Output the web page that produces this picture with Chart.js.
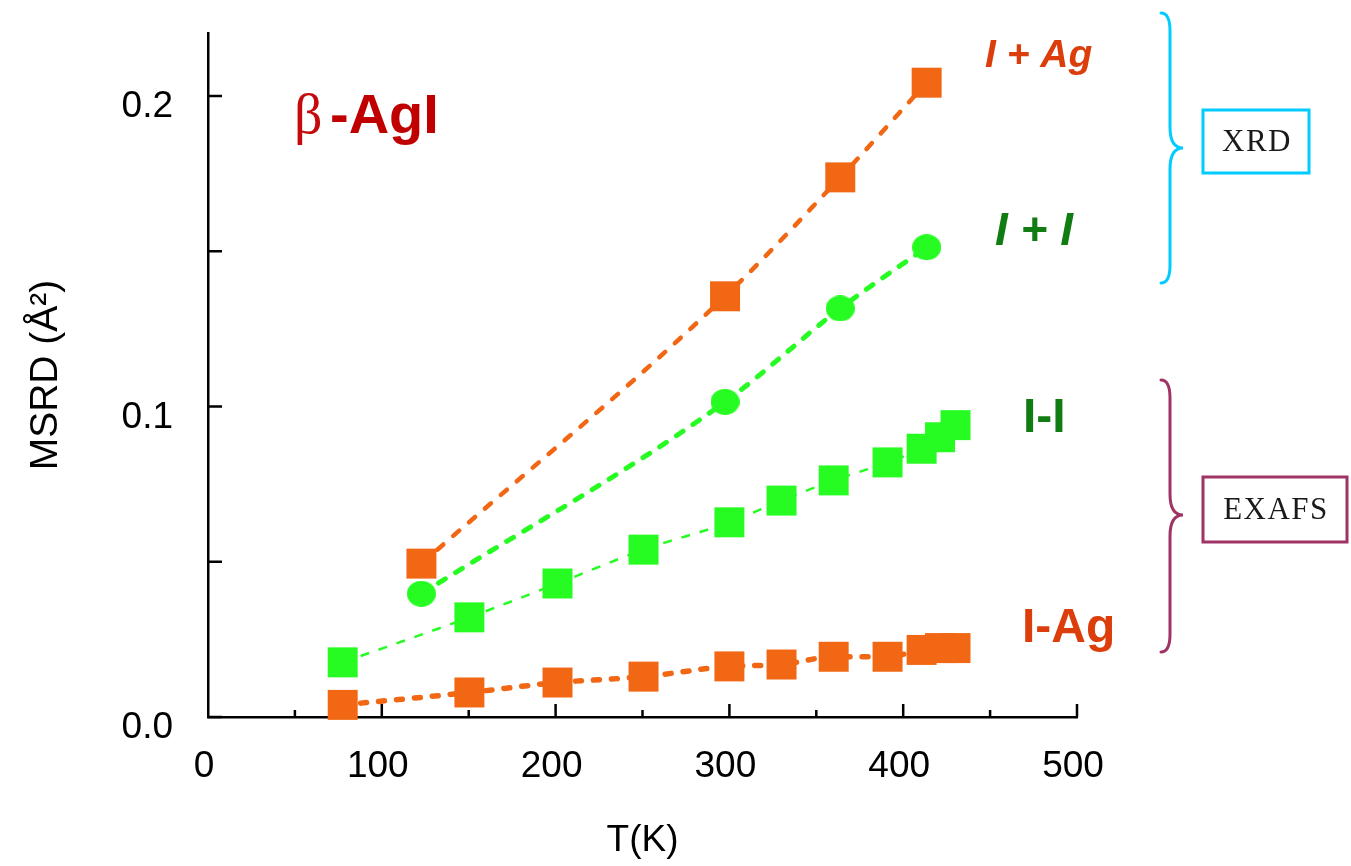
<!DOCTYPE html>
<html>
<head>
<meta charset="utf-8">
<title>beta-AgI MSRD vs T</title>
<script src="https://cdn.jsdelivr.net/npm/chart.js@4"></script>
<style>
  html, body { margin: 0; padding: 0; background: #fff; }
  #wrap { width: 1351px; height: 866px; }
</style>
</head>
<body>
<div id="wrap"><canvas id="msrd" width="1351" height="866"></canvas></div>
<script>
// temperatures (K)
const tXRD = [122.8, 297.5, 363.8, 413.5];
const tEXAFS = [77.5, 150.4, 201.1, 250.6, 300.0, 330.0, 360.0, 391.0, 410.6, 421.2, 430.1];

// MSRD values (A^2)
const msrdIAgXRD = [0.0494, 0.1355, 0.1738, 0.2043];   // I + Ag
const msrdIIXRD = [0.0397, 0.1015, 0.1316, 0.1513];    // I + I
const msrdIIEXAFS = [0.0176, 0.0321, 0.0430, 0.0539, 0.0627, 0.0697, 0.0762, 0.0820, 0.0864, 0.0901, 0.0940]; // I-I
const msrdIAgEXAFS = [0.0039, 0.0079, 0.0111, 0.0130, 0.0163, 0.0169, 0.0194, 0.0194, 0.0216, 0.0222, 0.0222]; // I-Ag

// axes
const xTickLabels = ['0', '100', '200', '300', '400', '500'];
const yTickLabels = ['0.0', '0.1', '0.2'];

const ORANGE = '#F16714';
const GREEN = '#27FC22';
const SANS = '"Liberation Sans", Arial, sans-serif';

function pts(xs, ys) {
  return xs.map((x, i) => ({ x: x, y: ys[i] }));
}

// slightly flattened round marker for the I + I points
function ellipseDot(w, h, color) {
  const c = document.createElement('canvas');
  c.width = w; c.height = h;
  const g = c.getContext('2d');
  g.fillStyle = color;
  g.beginPath();
  g.ellipse(w / 2, h / 2, w / 2, h / 2, 0, 0, Math.PI * 2);
  g.fill();
  return c;
}

function brace(ctx, x0, yTop, yMid, yBot, color) {
  const xs = x0 + 9, xp = x0 + 22, r = 18, rm = 21;
  ctx.save();
  ctx.strokeStyle = color;
  ctx.lineWidth = 3;
  ctx.lineCap = 'round';
  ctx.beginPath();
  ctx.moveTo(x0, yTop);
  ctx.quadraticCurveTo(xs, yTop, xs, yTop + r);
  ctx.lineTo(xs, yMid - rm);
  ctx.quadraticCurveTo(xs, yMid, xp, yMid);
  ctx.quadraticCurveTo(xs, yMid, xs, yMid + rm);
  ctx.lineTo(xs, yBot - r);
  ctx.quadraticCurveTo(xs, yBot, x0, yBot);
  ctx.stroke();
  ctx.restore();
}

function box(ctx, x, y, w, h, color, text) {
  ctx.save();
  ctx.strokeStyle = color;
  ctx.lineWidth = 3;
  ctx.strokeRect(x, y, w, h);
  ctx.fillStyle = '#1a1a1a';
  ctx.font = '31px "Liberation Serif", "Times New Roman", serif';
  ctx.letterSpacing = '1.5px';
  ctx.textAlign = 'center';
  ctx.textBaseline = 'middle';
  ctx.fillText(text, x + w / 2 + 1, y + h / 2 + 1);
  ctx.restore();
}

// inward tick marks, annotations, braces
const decorations = {
  id: 'decorations',
  afterDraw(chart) {
    const ctx = chart.ctx;
    const xs = chart.scales.x, ys = chart.scales.y;
    const ca = chart.chartArea;

    ctx.save();
    ctx.strokeStyle = '#000';
    ctx.lineWidth = 2.5;
    ctx.beginPath();
    ys.ticks.forEach(t => {
      const py = ys.getPixelForValue(t.value);
      ctx.moveTo(ca.left, py);
      ctx.lineTo(ca.left + 14, py);
    });
    xs.ticks.forEach(t => {
      if (t.value === 0) return;
      const px = xs.getPixelForValue(t.value);
      const len = t.value % 100 === 0 ? 13 : 7;
      ctx.moveTo(px, ca.bottom);
      ctx.lineTo(px, ca.bottom - len);
    });
    ctx.stroke();
    ctx.restore();

    ctx.save();
    ctx.textBaseline = 'alphabetic';
    ctx.textAlign = 'left';
    // title
    ctx.fillStyle = '#C40A0A';
    ctx.font = '56px "Liberation Serif", "Times New Roman", serif';
    ctx.fillText('β', 294, 133);
    ctx.fillStyle = '#C00000';
    ctx.font = 'bold 56px ' + SANS;
    ctx.fillText('-AgI', 330, 133);

    ctx.fillStyle = '#DC3E0B';
    ctx.font = 'italic bold 39px ' + SANS;
    ctx.fillText('I + Ag', 985, 67);

    ctx.fillStyle = '#107C12';
    ctx.font = 'italic bold 46px ' + SANS;
    ctx.fillText('I + I', 995, 245);

    ctx.font = 'bold 48px ' + SANS;
    ctx.fillText('I-I', 1023, 432);

    ctx.fillStyle = '#DC3E0B';
    ctx.fillText('I-Ag', 1022, 642);
    ctx.restore();

    brace(ctx, 1161, 13, 148, 283, '#00CCFF');
    brace(ctx, 1161, 380, 515, 652, '#A03366');
    box(ctx, 1203, 110, 106, 63, '#00CCFF', 'XRD');
    box(ctx, 1203, 477, 144, 65, '#A03366', 'EXAFS');
  }
};

const tickFont = { family: SANS, size: 37 };

new Chart(document.getElementById('msrd'), {
  type: 'line',
  data: {
    datasets: [
      {
        label: 'I-Ag',
        data: pts(tEXAFS, msrdIAgEXAFS),
        borderColor: ORANGE,
        borderWidth: 5.5,
        borderDash: [6, 12],
        borderCapStyle: 'round',
        cubicInterpolationMode: 'monotone',
        pointStyle: 'rect',
        pointRadius: 21.2,
        pointBorderWidth: 0,
        pointBackgroundColor: ORANGE
      },
      {
        label: 'I-I',
        data: pts(tEXAFS, msrdIIEXAFS),
        borderColor: GREEN,
        borderWidth: 2.5,
        borderDash: [9, 10],
        cubicInterpolationMode: 'monotone',
        pointStyle: 'rect',
        pointRadius: 21.2,
        pointBorderWidth: 0,
        pointBackgroundColor: GREEN
      },
      {
        label: 'I + I',
        data: pts(tXRD, msrdIIXRD),
        borderColor: GREEN,
        borderWidth: 5,
        borderDash: [8, 12],
        borderCapStyle: 'round',
        cubicInterpolationMode: 'monotone',
        pointStyle: ellipseDot(29, 26, GREEN),
        pointRadius: 14,
        pointBorderWidth: 0,
        pointBackgroundColor: GREEN
      },
      {
        label: 'I + Ag',
        data: pts(tXRD, msrdIAgXRD),
        borderColor: ORANGE,
        borderWidth: 4.5,
        borderDash: [8, 13],
        borderCapStyle: 'round',
        cubicInterpolationMode: 'monotone',
        pointStyle: 'rect',
        pointRadius: 21.2,
        pointBorderWidth: 0,
        pointBackgroundColor: ORANGE
      }
    ]
  },
  options: {
    responsive: false,
    animation: false,
    clip: false,
    layout: { padding: { top: 33, right: 274, left: 0, bottom: 0 } },
    plugins: { legend: { display: false }, tooltip: { enabled: false } },
    scales: {
      x: {
        type: 'linear',
        min: 0,
        max: 500,
        afterFit: s => { s.height = 149; s.paddingLeft = 0; s.paddingRight = 0; },
        border: { display: true, color: '#000', width: 2.5 },
        grid: { drawOnChartArea: false, drawTicks: false },
        ticks: {
          stepSize: 50,
          includeBounds: false,
          autoSkip: false,
          maxRotation: 0,
          padding: 28,
          labelOffset: -4,
          color: '#000',
          font: tickFont,
          callback: v => (v % 100 === 0 ? xTickLabels[v / 100] : '')
        },
        title: {
          display: true,
          text: 'T(K)',
          color: '#000',
          font: tickFont,
          padding: { top: 0, bottom: 3 }
        }
      },
      y: {
        type: 'linear',
        min: 0,
        max: 0.2203,
        afterFit: s => { s.width = 208; s.paddingTop = 0; s.paddingBottom = 0; },
        border: { display: true, color: '#000', width: 2.5 },
        grid: { drawOnChartArea: false, drawTicks: false },
        ticks: {
          stepSize: 0.05,
          includeBounds: false,
          autoSkip: false,
          padding: 35,
          labelOffset: 11,
          color: '#000',
          font: tickFont,
          callback: v => {
            const k = Math.round(v * 10);
            return Math.abs(k - v * 10) < 1e-6 ? yTickLabels[k] : '';
          }
        },
        title: {
          display: true,
          text: 'MSRD (Å²)',
          color: '#000',
          font: { family: SANS, size: 39 },
          padding: { top: 23, bottom: 0 }
        }
      }
    }
  },
  plugins: [decorations]
});
</script>
</body>
</html>
